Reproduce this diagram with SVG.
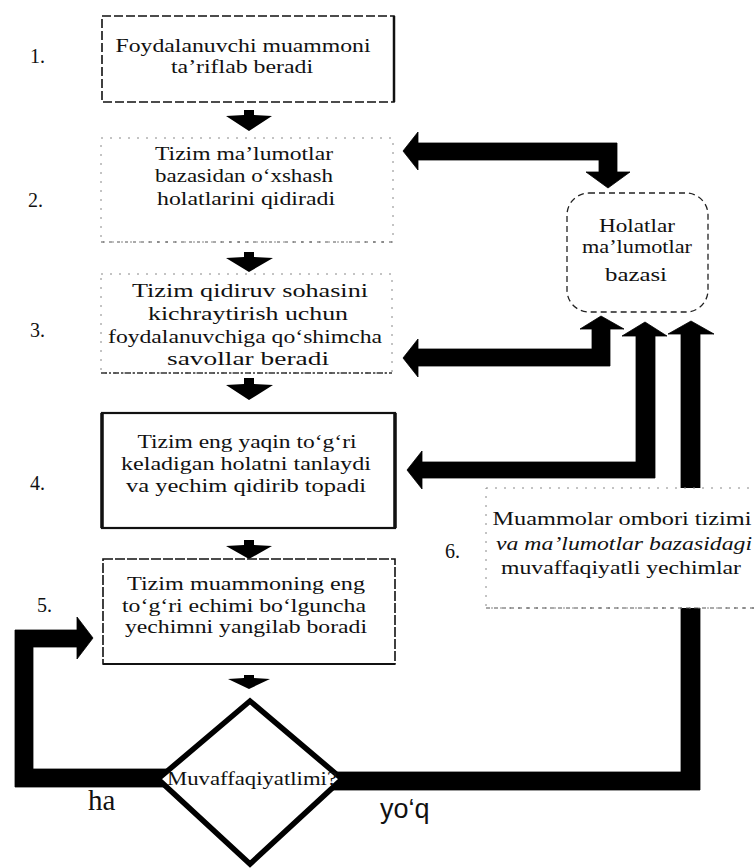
<svg xmlns="http://www.w3.org/2000/svg" width="755" height="868" viewBox="0 0 755 868">
<style>
.t{font-family:"Liberation Serif","Times New Roman",serif;font-size:19px;fill:#111;}
.n{font-family:"Liberation Serif","Times New Roman",serif;font-size:20px;fill:#111;}
.dotbox{fill:#fff;stroke:#888;stroke-width:1;stroke-dasharray:2 7;}
.dashbox{fill:#fff;stroke:#111;stroke-width:1.6;stroke-dasharray:9 3;}
.solidbox{fill:#fff;stroke:#111;stroke-width:2.2;}
.conn{fill:#000;stroke:#000;stroke-width:0.8;stroke-linejoin:miter;}
.small{fill:#000;}
</style>
<rect width="755" height="868" fill="#fff"/>

<g id="connectors">
  <!-- DB <-> step 2 -->
  <polygon class="conn" points="403,151 418,132 418,143 617,143 617,172 630,172 608,188 586,172 599,172 599,160 418,160 418,170"/>
  <!-- DB <-> step 3 -->
  <polygon class="conn" points="403,358 418,339 418,349 592,349 592,329 580,329 601,316 624,329 610,329 610,366 418,366 418,377"/>
  <!-- DB <-> step 4 -->
  <polygon class="conn" points="407,470 422,451 422,462 636,462 636,336 622,336 645,322 667,336 655,336 655,478 422,478 422,489"/>
  <!-- ha loop: decision -> step 5 -->
  <polygon class="conn" points="175,769 175,787 15,787 15,630 77,630 77,617 93,638 77,659 77,647 33,647 33,769"/>
  <!-- yo'q: decision -> DB -->
  <polygon class="conn" points="325,772 681,772 681,334 668,334 691,321 714,334 700,334 700,790 325,790"/>
  <!-- small flow arrows -->
  <polygon class="small" points="244,110 254,110 254,115 272,116 249,131 226,116 244,115"/>
  <polygon class="small" points="244,252 254,252 254,257 273,258 249,272 226,258 244,257"/>
  <polygon class="small" points="244,378 254,378 254,384 273,385 249,400 226,385 244,384"/>
  <polygon class="small" points="244,540 254,540 254,545 272,546 249,559 226,546 244,545"/>
  <polygon class="small" points="244,675 254,675 254,678 270,679 249,689 228,679 244,678"/>
</g>

<g id="step1">
  <rect class="dashbox" x="102" y="16" width="292" height="86"/>
  <line x1="394" y1="16" x2="394" y2="102" stroke="#111" stroke-width="2.5"/>
  <text class="t" x="243" y="52" text-anchor="middle" textLength="255" lengthAdjust="spacingAndGlyphs">Foydalanuvchi muammoni</text>
  <text class="t" x="242" y="73" text-anchor="middle" textLength="142" lengthAdjust="spacingAndGlyphs">ta’riflab beradi</text>
  <text class="n" x="30" y="63">1.</text>
</g>

<g id="step2">
  <rect class="dotbox" x="101" y="138" width="292" height="104"/>
  <line x1="101" y1="242" x2="393" y2="242" stroke="#555" stroke-width="1" stroke-dasharray="3 5"/>
  <text class="t" x="244" y="160" text-anchor="middle" textLength="178" lengthAdjust="spacingAndGlyphs">Tizim ma’lumotlar</text>
  <text class="t" x="244" y="182" text-anchor="middle" textLength="178" lengthAdjust="spacingAndGlyphs">bazasidan o‘xshash</text>
  <text class="t" x="246" y="205" text-anchor="middle" textLength="178" lengthAdjust="spacingAndGlyphs">holatlarini qidiradi</text>
  <text class="n" x="28" y="207">2.</text>
</g>

<g id="step3">
  <rect class="dotbox" x="101" y="274" width="291" height="99"/>
  <line x1="101" y1="373" x2="392" y2="373" stroke="#333" stroke-width="1.4" stroke-dasharray="6 2 2 2"/>
  <text class="t" x="250" y="297" text-anchor="middle" textLength="236" lengthAdjust="spacingAndGlyphs">Tizim qidiruv sohasini</text>
  <text class="t" x="248" y="320" text-anchor="middle" textLength="200" lengthAdjust="spacingAndGlyphs">kichraytirish uchun</text>
  <text class="t" x="245" y="343" text-anchor="middle" textLength="274" lengthAdjust="spacingAndGlyphs">foydalanuvchiga qo‘shimcha</text>
  <text class="t" x="248" y="365" text-anchor="middle" textLength="162" lengthAdjust="spacingAndGlyphs">savollar beradi</text>
  <text class="n" x="30" y="337">3.</text>
</g>

<g id="step4">
  <rect class="solidbox" x="102" y="413" width="293" height="115"/>
  <line x1="102" y1="413" x2="102" y2="528" stroke="#111" stroke-width="3.5"/>
  <line x1="395" y1="413" x2="395" y2="528" stroke="#111" stroke-width="3.5"/>
  <text class="t" x="247" y="448" text-anchor="middle" textLength="219" lengthAdjust="spacingAndGlyphs">Tizim eng yaqin to‘g‘ri</text>
  <text class="t" x="246" y="470" text-anchor="middle" textLength="250" lengthAdjust="spacingAndGlyphs">keladigan holatni tanlaydi</text>
  <text class="t" x="246" y="492" text-anchor="middle" textLength="240" lengthAdjust="spacingAndGlyphs">va yechim qidirib topadi</text>
  <text class="n" x="30" y="490">4.</text>
</g>

<g id="step5">
  <rect x="103" y="559" width="292" height="105" fill="#fff" stroke="#111" stroke-width="1.6" stroke-dasharray="10 2"/>
  <line x1="103" y1="664" x2="395" y2="664" stroke="#111" stroke-width="2.2"/>
  <text class="t" x="246" y="590" text-anchor="middle" textLength="238" lengthAdjust="spacingAndGlyphs">Tizim muammoning eng</text>
  <text class="t" x="244" y="612" text-anchor="middle" textLength="244" lengthAdjust="spacingAndGlyphs">to‘g‘ri echimi bo‘lguncha</text>
  <text class="t" x="246" y="633" text-anchor="middle" textLength="242" lengthAdjust="spacingAndGlyphs">yechimni yangilab boradi</text>
  <text class="n" x="37" y="612">5.</text>
</g>

<g id="database">
  <rect x="567" y="193" width="141" height="119" rx="22" ry="22" fill="#fff" stroke="#222" stroke-width="1.3" stroke-dasharray="6 4"/>
  <text class="t" x="637" y="232" text-anchor="middle" textLength="76" lengthAdjust="spacingAndGlyphs">Holatlar</text>
  <text class="t" x="637" y="253" text-anchor="middle" textLength="110" lengthAdjust="spacingAndGlyphs">ma’lumotlar</text>
  <text class="t" x="636" y="281" text-anchor="middle" textLength="62" lengthAdjust="spacingAndGlyphs">bazasi</text>
</g>

<g id="step6">
  <rect class="dotbox" x="486" y="488" width="272" height="120"/>
  <line x1="486" y1="608" x2="755" y2="608" stroke="#555" stroke-width="1" stroke-dasharray="4 4"/>
  <text class="t" x="622" y="525" text-anchor="middle" textLength="259" lengthAdjust="spacingAndGlyphs">Muammolar ombori tizimi</text>
  <text class="t" x="624" y="550" text-anchor="middle" textLength="256" lengthAdjust="spacingAndGlyphs" font-style="italic">va ma’lumotlar bazasidagi</text>
  <text class="t" x="621" y="574" text-anchor="middle" textLength="240" lengthAdjust="spacingAndGlyphs">muvaffaqiyatli yechimlar</text>
  <text class="n" x="445" y="558">6.</text>
</g>

<g id="decision">
  <polygon points="250,701 342,779 250,864 158,779" fill="#fff" stroke="#000" stroke-width="5.5" stroke-linejoin="miter"/>
  <text class="t" x="252" y="785" text-anchor="middle" font-size="17" textLength="170" lengthAdjust="spacingAndGlyphs">Muvaffaqiyatlimi?</text>
</g>

<g id="labels">
  <text x="88" y="810" font-family="Liberation Serif, serif" font-size="29" fill="#111">ha</text>
  <text x="380" y="818" font-family="Liberation Sans, Arial, sans-serif" font-size="27" fill="#111">yo‘q</text>
</g>
</svg>
